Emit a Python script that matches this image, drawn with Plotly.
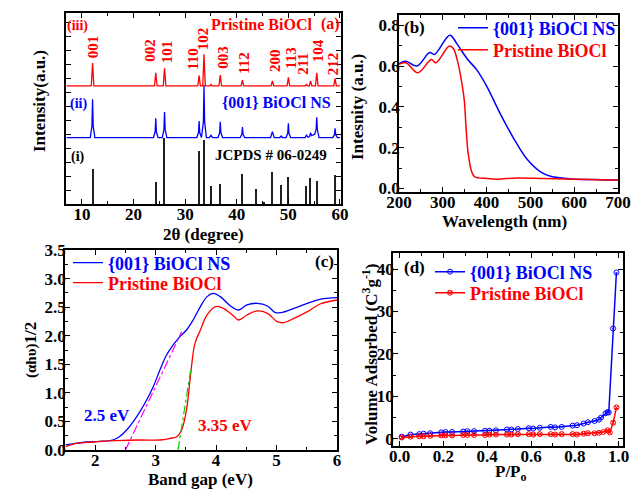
import plotly.graph_objects as go

W, H = 632, 489
FONT = "Liberation Serif"
RED = "#ff0000"
BLUE = "#0000ff"

# ---------------- (a) XRD ----------------
xrd_pr_2theta = [7.0, 11.8, 12.05, 12.3, 24.05, 24.3, 24.55, 25.75, 26.0, 26.25,
                 32.45, 32.7, 32.95, 33.4, 33.65, 33.9, 34.8, 35.0, 35.2, 36.55, 36.8, 37.05,
                 40.85, 41.1, 41.35, 46.65, 46.9, 47.15, 49.75, 50.0, 50.25,
                 53.3, 53.5, 53.7, 54.05, 54.3, 54.55, 55.25, 55.5, 55.75, 58.8, 59.05, 59.3, 60.0]
xrd_pr_int = [61.8, 61.8, 73.8, 61.8, 61.8, 68.7, 61.8, 61.8, 71.0, 61.8,
              61.8, 67.2, 61.8, 61.8, 78.4, 61.8, 61.8, 62.6, 61.8, 61.8, 67.5, 61.8,
              61.8, 64.9, 61.8, 61.8, 64.4, 61.8, 61.8, 66.3, 61.8,
              61.8, 62.6, 61.8, 61.8, 64.4, 61.8, 61.8, 68.7, 61.8, 61.8, 65.8, 61.8, 61.8]

xrd_ns_2theta = [7.0, 11.6, 11.93, 12.05, 12.17, 12.5, 23.85, 24.18, 24.3, 24.42, 24.75,
                 25.55, 25.88, 26.0, 26.12, 26.45, 32.25, 32.58, 32.7, 32.82, 33.15,
                 33.53, 33.65, 33.77, 34.1, 34.7, 35.0, 35.3, 36.35, 36.68, 36.8, 36.92, 37.25,
                 40.65, 40.98, 41.1, 41.22, 41.55, 46.55, 46.9, 47.25, 48.35, 48.6, 48.85,
                 49.55, 49.88, 50.0, 50.12, 50.45, 53.25, 53.5, 53.8, 54.1, 54.3, 54.5,
                 55.1, 55.38, 55.5, 55.62, 55.95, 58.6, 58.93, 59.05, 59.17, 59.5, 60.0]
xrd_ns_int = [34.8, 34.8, 40.8, 54.8, 40.8, 34.8, 34.8, 37.8, 44.9, 37.8, 34.8,
              34.8, 38.8, 48.2, 38.8, 34.8, 34.8, 37.4, 43.5, 37.4, 34.8,
              43.1, 62.3, 43.1, 34.8, 34.8, 36.0, 34.8, 34.8, 37.3, 43.1, 37.3, 34.8,
              34.8, 36.5, 40.3, 36.5, 34.8, 34.8, 37.9, 34.8, 34.8, 35.6, 34.8,
              34.8, 37.0, 42.3, 37.0, 34.8, 34.8, 36.0, 35.0, 35.3, 37.3, 35.8,
              36.5, 39.0, 45.4, 39.0, 34.8, 34.8, 36.3, 39.6, 36.3, 34.8, 34.8]

jcpds_2theta = [12.05, 24.3, 26.0, 32.7, 33.65, 35.05, 36.8, 41.1, 43.8, 45.3, 46.9,
                48.6, 50.0, 53.5, 54.3, 55.5, 59.05]
jcpds_int = [18.2, 11.4, 34.8, 27.9, 33.5, 9.6, 10.5, 15.5, 7.7, 0.7, 16.9,
             9.8, 14.0, 9.4, 13.8, 12.2, 15.3]

hkl_labels = ["001", "002", "101", "110", "102", "003", "112", "200", "113", "211", "104", "212"]
hkl_label_2theta = [12.2, 23.25, 26.55, 31.6, 33.5, 37.2, 41.5, 47.3, 50.4, 52.9, 55.8, 58.7]
hkl_label_int = [82.2, 80.4, 79.6, 76.2, 86.4, 76.7, 73.6, 75.1, 76.7, 73.6, 80.1, 73.3]

# ---------------- (b) UV-vis ----------------
uv_ns_nm = [200, 216, 241, 270, 281, 316, 332, 355, 378, 401, 431, 462, 493, 523, 546, 592, 646, 700]
uv_ns_abs = [0.612, 0.624, 0.600, 0.666, 0.657, 0.751, 0.710, 0.637, 0.580, 0.498, 0.367,
             0.245, 0.142, 0.082, 0.060, 0.047, 0.044, 0.041]
uv_pr_nm = [200, 216, 243, 274, 284, 315, 324, 335, 343, 349, 353, 358, 366, 373,
            401, 424, 470, 531, 607, 700]
uv_pr_abs = [0.609, 0.616, 0.567, 0.632, 0.616, 0.698, 0.686, 0.612, 0.522, 0.433, 0.302,
             0.171, 0.082, 0.057, 0.049, 0.046, 0.052, 0.049, 0.046, 0.041]

# ---------------- (c) Tauc ----------------
tauc_ns_ev = [1.51, 1.68, 1.85, 2.07, 2.29, 2.40, 2.52, 2.63, 2.74, 2.85, 2.96, 3.07, 3.18,
              3.29, 3.40, 3.51, 3.62, 3.74, 3.85, 3.96, 4.07, 4.24, 4.37, 4.51, 4.68, 4.85,
              4.98, 5.07, 5.29, 5.51, 5.72, 6.0]
tauc_ns_val = [0.088, 0.117, 0.140, 0.152, 0.175, 0.233, 0.350, 0.496, 0.671, 0.875, 1.108,
               1.400, 1.663, 1.838, 1.984, 2.100, 2.275, 2.509, 2.684, 2.742, 2.684, 2.520,
               2.450, 2.540, 2.567, 2.520, 2.404, 2.404, 2.480, 2.567, 2.637, 2.665]
tauc_pr_ev = [1.51, 1.68, 1.96, 2.35, 2.74, 3.07, 3.24, 3.35, 3.43, 3.51, 3.58, 3.65, 3.74,
              3.85, 3.99, 4.12, 4.29, 4.37, 4.51, 4.68, 4.85, 5.01, 5.12, 5.29, 5.51, 5.72, 6.0]
tauc_pr_val = [0.058, 0.117, 0.140, 0.163, 0.175, 0.175, 0.204, 0.233, 0.350, 0.700, 1.342,
               1.867, 2.100, 2.363, 2.509, 2.480, 2.345, 2.275, 2.363, 2.433, 2.392, 2.246,
               2.229, 2.304, 2.421, 2.555, 2.625]
fit_ns_ev = [2.5, 3.43]
fit_ns_val = [0.0, 2.07]
fit_pr_ev = [3.37, 3.58]
fit_pr_val = [0.0, 1.40]

# ---------------- (d) N2 isotherm ----------------
bet_ns_p = [0.01, 0.05, 0.09, 0.11, 0.14, 0.19, 0.21, 0.24, 0.29, 0.31, 0.34, 0.39, 0.41,
            0.44, 0.49, 0.51, 0.54, 0.59, 0.61, 0.64, 0.69, 0.71, 0.74, 0.79, 0.81, 0.84,
            0.86, 0.89, 0.91, 0.92, 0.94, 0.95, 0.955, 0.975, 0.99]
bet_ns_v = [0.5, 1.0, 1.1, 1.2, 1.3, 1.5, 1.6, 1.6, 1.7, 1.8, 1.8, 1.9, 1.9, 2.0, 2.2, 2.2,
            2.3, 2.5, 2.4, 2.6, 2.8, 2.7, 2.8, 3.1, 3.2, 3.6, 3.9, 4.2, 4.5, 5.0, 6.0, 6.3,
            6.2, 26.0, 39.2]
bet_pr_p = [0.01, 0.05, 0.09, 0.11, 0.14, 0.19, 0.21, 0.24, 0.29, 0.31, 0.34, 0.39, 0.41,
            0.44, 0.49, 0.51, 0.54, 0.59, 0.61, 0.64, 0.69, 0.71, 0.74, 0.79, 0.81, 0.84,
            0.86, 0.89, 0.91, 0.93, 0.95, 0.96, 0.975, 0.99]
bet_pr_v = [0.3, 0.5, 0.6, 0.6, 0.7, 0.8, 0.8, 0.8, 0.9, 0.9, 0.9, 0.9, 1.0, 1.0, 1.0, 1.0,
            1.1, 1.1, 1.0, 1.1, 1.1, 1.0, 1.1, 1.1, 1.0, 1.2, 1.3, 1.3, 1.4, 1.6, 2.0, 1.5,
            3.8, 7.4]

NAME_NS = "{001} BiOCl NS"
NAME_PR = "Pristine BiOCl"


def px(x):
    return x / W


def py(y):
    return 1 - y / H


def axis(xr, yr, rng, dtick, minor=None, labels=True, anchor=None, horizontal=True):
    dom = [px(xr[0]), px(xr[1])] if horizontal else [py(yr[1]), py(yr[0])]
    d = dict(domain=dom, range=rng, dtick=dtick, tick0=0, showline=True, linecolor="black",
             linewidth=1.6, mirror="ticks", ticks="inside", ticklen=5, tickwidth=1.2,
             tickcolor="black", showgrid=False, zeroline=False, showticklabels=labels,
             automargin=False, ticklabelstandoff=-6,
             tickfont=dict(family=FONT, size=17, color="black", weight="bold"), anchor=anchor)
    if minor:
        d["minor"] = dict(dtick=minor, ticks="inside", ticklen=3, tickcolor="black",
                          tickwidth=1, showgrid=False)
    return d


A = ((66, 341), (13, 204))
B = ((399, 618), (15, 192))
C = ((65, 337), (250, 450))
D = ((393, 623), (253, 446))

fig = go.Figure()

# (a)
fig.add_trace(go.Bar(x=jcpds_2theta, y=jcpds_int, width=0.22, marker=dict(color="#202020", line_width=0),
                     xaxis="x", yaxis="y", showlegend=False))
fig.add_trace(go.Scatter(x=xrd_ns_2theta, y=xrd_ns_int, mode="lines", line=dict(color=BLUE, width=1.3),
                         xaxis="x", yaxis="y", showlegend=False))
fig.add_trace(go.Scatter(x=xrd_pr_2theta, y=xrd_pr_int, mode="lines", line=dict(color=RED, width=1.3),
                         xaxis="x", yaxis="y", showlegend=False))

# (b)
fig.add_trace(go.Scatter(x=uv_ns_nm, y=uv_ns_abs, mode="lines", line=dict(color=BLUE, width=1.5, shape="spline"),
                         xaxis="x2", yaxis="y2", name=f"<span style='color:{BLUE}'>{NAME_NS}</span>",
                         legend="legend"))
fig.add_trace(go.Scatter(x=uv_pr_nm, y=uv_pr_abs, mode="lines", line=dict(color=RED, width=1.5, shape="spline"),
                         xaxis="x2", yaxis="y2", name=f"<span style='color:{RED}'>{NAME_PR}</span>",
                         legend="legend2"))

# (c)
fig.add_trace(go.Scatter(x=tauc_ns_ev, y=tauc_ns_val, mode="lines", line=dict(color=BLUE, width=1.3, shape="spline"),
                         xaxis="x3", yaxis="y3", name=f"<span style='color:{BLUE}'>{NAME_NS}</span>",
                         legend="legend3"))
fig.add_trace(go.Scatter(x=tauc_pr_ev, y=tauc_pr_val, mode="lines", line=dict(color=RED, width=1.3, shape="spline"),
                         xaxis="x3", yaxis="y3", name=f"<span style='color:{RED}'>{NAME_PR}</span>",
                         legend="legend4"))
fig.add_trace(go.Scatter(x=fit_ns_ev, y=fit_ns_val, mode="lines", line=dict(color="#ff00ff", width=1.2, dash="dashdot"),
                         xaxis="x3", yaxis="y3", showlegend=False))
fig.add_trace(go.Scatter(x=fit_pr_ev, y=fit_pr_val, mode="lines", line=dict(color="#00cc00", width=1.2, dash="dashdot"),
                         xaxis="x3", yaxis="y3", showlegend=False))

# (d)
fig.add_trace(go.Scatter(x=bet_ns_p, y=bet_ns_v, mode="lines+markers", line=dict(color=BLUE, width=1.5),
                         marker=dict(symbol="circle-open-dot", size=5, color=BLUE, line=dict(width=1)),
                         xaxis="x4", yaxis="y4", name=f"<span style='color:{BLUE}'>{NAME_NS}</span>",
                         legend="legend5"))
fig.add_trace(go.Scatter(x=bet_pr_p, y=bet_pr_v, mode="lines+markers", line=dict(color=RED, width=1.5),
                         marker=dict(symbol="circle-x-open", size=5, color=RED, line=dict(width=1)),
                         xaxis="x4", yaxis="y4", name=f"<span style='color:{RED}'>{NAME_PR}</span>",
                         legend="legend6"))

ann = []


def text(x, y, s, size=17, color="black", angle=0, ref=("paper", "paper"), xanchor="center"):
    ann.append(dict(x=x, y=y, xref=ref[0], yref=ref[1], text=s, showarrow=False, textangle=angle,
                    xanchor=xanchor, yanchor="middle",
                    font=dict(family=FONT, size=size, color=color, weight="bold")))


for lab, xx, yy in zip(hkl_labels, hkl_label_2theta, hkl_label_int):
    text(xx, yy, lab, size=15, color=RED, angle=-90, ref=("x", "y"))

text(px(77), py(26), "(iii)", 14, RED)
text(px(78), py(104), "(ii)", 14, BLUE)
text(px(78), py(157), "(i)", 14, "black")
text(px(261), py(24), "Pristine BiOCl", 16, RED)
text(px(330), py(24), "(a)", 16, RED)
text(px(276), py(102), "{001} BiOCl NS", 16, BLUE)
text(px(271), py(155), "JCPDS # 06-0249", 15, "black")
text(px(39), py(101), "Intensity(a.u.)", 17, angle=-90)
text(px(203), py(234), "2θ (degree)", 17)

text(px(415), py(28), "(b)", 17)
text(px(357), py(107), "Intesnity (a.u.)", 17, angle=-90)
text(px(504), py(221), "Wavelength (nm)", 17)

text(px(324), py(261), "(c)", 17)
text(px(107), py(415), "2.5 eV", 17, BLUE)
text(px(225), py(425), "3.35 eV", 17, RED)
text(px(30), py(350), "<span style='font-size:15px'>(αhυ)</span>1/2", 17, angle=-90)
text(px(201), py(479), "Band gap (eV)", 17)

text(px(415), py(267), "(d)", 17)
text(px(370), py(355), "Volume Adsorbed (C<sup>3</sup>g<sup>-1</sup>)", 17, angle=-90)
text(px(511), py(473), "P/P<sub>o</sub>", 17)

leg = dict(bgcolor="rgba(0,0,0,0)", borderwidth=0, xanchor="left", yanchor="middle",
           font=dict(family=FONT, size=18, color="black", weight="bold"), itemwidth=30)

fig.update_layout(
    width=W, height=H, margin=dict(l=0, r=0, t=0, b=0),
    paper_bgcolor="white", plot_bgcolor="white",
    font=dict(family=FONT, color="black"),
    bargap=0,
    xaxis=axis(*A, [6.9, 60.2], 10, 5, anchor="y"),
    yaxis=axis(*A, [0, 100], 7.3, None, labels=False, anchor="x", horizontal=False),
    xaxis2=axis(*B, [200, 700], 100, 50, anchor="y2"),
    yaxis2=axis(*B, [-0.017, 0.85], 0.2, 0.1, anchor="x2", horizontal=False),
    xaxis3=axis(*C, [1.5, 6.0], 1, 0.5, anchor="y3"),
    yaxis3=axis(*C, [0, 3.5], 0.5, 0.25, anchor="x3", horizontal=False),
    xaxis4=axis(*D, [-0.03, 1.02], 0.2, 0.1, anchor="y4"),
    yaxis4=axis(*D, [-1.7, 43.8], 10, 5, anchor="x4", horizontal=False),
    legend=dict(leg, x=px(453), y=py(28)),
    legend2=dict(leg, x=px(453), y=py(50)),
    legend3=dict(leg, x=px(68), y=py(263)),
    legend4=dict(leg, x=px(68), y=py(283)),
    legend5=dict(leg, x=px(430), y=py(272)),
    legend6=dict(leg, x=px(430), y=py(293)),
    annotations=ann,
)
fig.update_yaxes(tickformat=".1f", selector=dict(anchor="x2"))
fig.update_yaxes(tickformat=".1f", selector=dict(anchor="x3"))
fig.update_xaxes(tickformat=".1f", selector=dict(anchor="y4"))

fig.write_html("out.html", config={"displayModeBar": False},
               post_script="document.body.style.margin='0px';document.body.style.overflow='hidden';")
